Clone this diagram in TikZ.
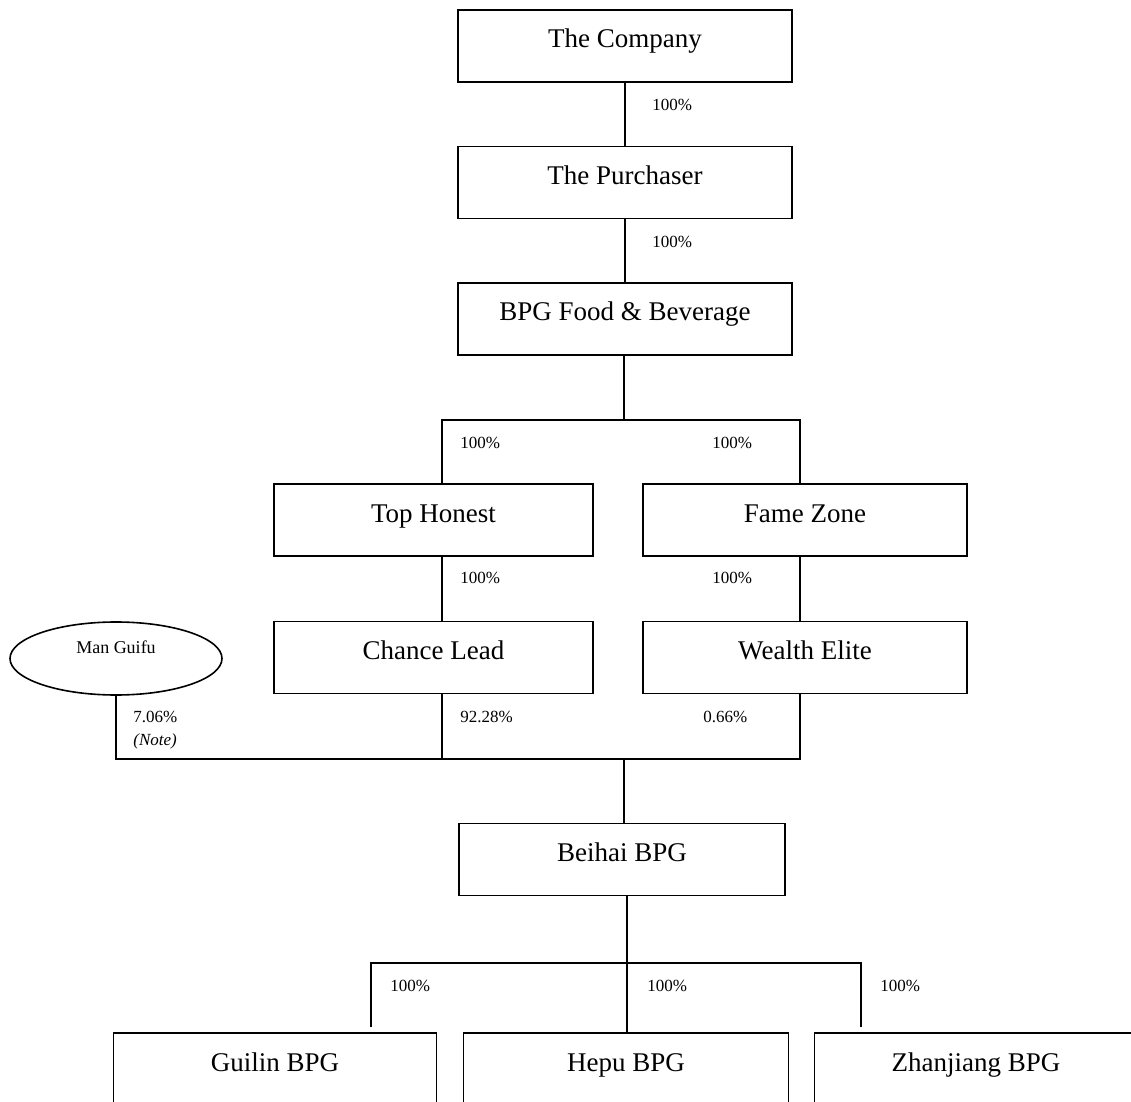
\documentclass[tikz,border=0pt]{standalone}
\usepackage{fontspec}
\setmainfont{Liberation Serif}
\usetikzlibrary{shapes.geometric}

\tikzset{
  entity/.style={draw,line width=0.8pt,inner sep=0pt,minimum height=36pt,
    text height=19pt,text depth=17pt,font=\fontsize{13.5}{16}\selectfont},
  owner/.style={draw,ellipse,line width=0.8pt,inner sep=0pt,minimum width=106pt,
    minimum height=36.5pt,text height=7.5pt,text depth=12.5pt,font=\fontsize{9}{11}\selectfont},
  pct/.style={anchor=west,inner sep=0pt,font=\fontsize{8.5}{10}\selectfont},
  link/.style={line width=0.8pt}
}

\begin{document}
\begin{tikzpicture}[x=0.5pt,y=-0.5pt]
  \useasboundingbox (0,0) rectangle (1131,1102);
  \clip (0,0) rectangle (1131,1102);

  % holding chain
  \node[entity,minimum width=167pt] (company) at (625,46) {The Company};
  \node[entity,minimum width=167pt] (purchaser) at (625,182.5) {The Purchaser};
  \node[entity,minimum width=167pt] (bpg) at (625,319) {BPG Food \& Beverage};
  \node[entity,minimum width=159.5pt] (honest) at (433.5,520) {Top Honest};
  \node[entity,minimum width=162pt] (fame) at (805,520) {Fame Zone};
  \node[entity,minimum width=159.5pt] (chance) at (433.5,657.5) {Chance Lead};
  \node[entity,minimum width=162pt] (wealth) at (805,657.5) {Wealth Elite};
  \node[owner] (guifu) at (116,658.5) {Man Guifu};
  \node[entity,minimum width=163pt] (beihai) at (622,859.5) {Beihai BPG};
  \node[entity,minimum width=161.5pt] (guilin) at (275,1069) {Guilin BPG};
  \node[entity,minimum width=162.5pt] (hepu) at (626,1069) {Hepu BPG};
  \node[entity,minimum width=161.5pt] (zhan) at (976,1069) {Zhanjiang BPG};

  % junctions
  \coordinate (s1) at (624,420);
  \coordinate (s1L) at (442,420);
  \coordinate (s1R) at (800,420);
  \coordinate (s2) at (624,759);
  \coordinate (s3) at (627,963);
  \coordinate (s3L) at (371,963);
  \coordinate (s3R) at (861,963);

  \draw[link] (company.south) -- (purchaser.north);
  \draw[link] (purchaser.south) -- (bpg.north);
  \draw[link] (s1 |- bpg.south) -- (s1);
  \draw[link] (s1L |- honest.north) -- (s1L) -- (s1R) -- (s1R |- fame.north);
  \draw[link] (s1L |- honest.south) -- (s1L |- chance.north);
  \draw[link] (s1R |- fame.south) -- (s1R |- wealth.north);
  \draw[link] (guifu.south) -- (guifu.south |- s2) -- (s1R |- s2) -- (s1R |- wealth.south);
  \draw[link] (s1L |- chance.south) -- (s1L |- s2);
  \draw[link] (s2) -- (s2 |- beihai.north);
  \draw[link] (s3 |- beihai.south) -- (s3 |- hepu.north);
  \draw[link,shorten <=2.5pt,shorten >=2.5pt] (s3L |- guilin.north) -- (s3L) -- (s3R) -- (s3R |- zhan.north);

  % shareholdings
  \node[pct] (p1) at (652,105) {100\%};
  \node[pct] (p2) at (652,242) {100\%};
  \node[pct] (p3) at (460,443) {100\%};
  \node[pct] (p4) at (712,443) {100\%};
  \node[pct] (p5) at (460,578) {100\%};
  \node[pct] (p6) at (712,578) {100\%};
  \node[pct] (p7) at (133,717) {7.06\%};
  \node[pct] (p7n) at (133,741) {\textit{(Note)}};
  \node[pct] (p8) at (460,717) {92.28\%};
  \node[pct] (p9) at (703,717) {0.66\%};
  \node[pct] (p10) at (390,986) {100\%};
  \node[pct] (p11) at (647,986) {100\%};
  \node[pct] (p12) at (880,986) {100\%};
\end{tikzpicture}
\end{document}
